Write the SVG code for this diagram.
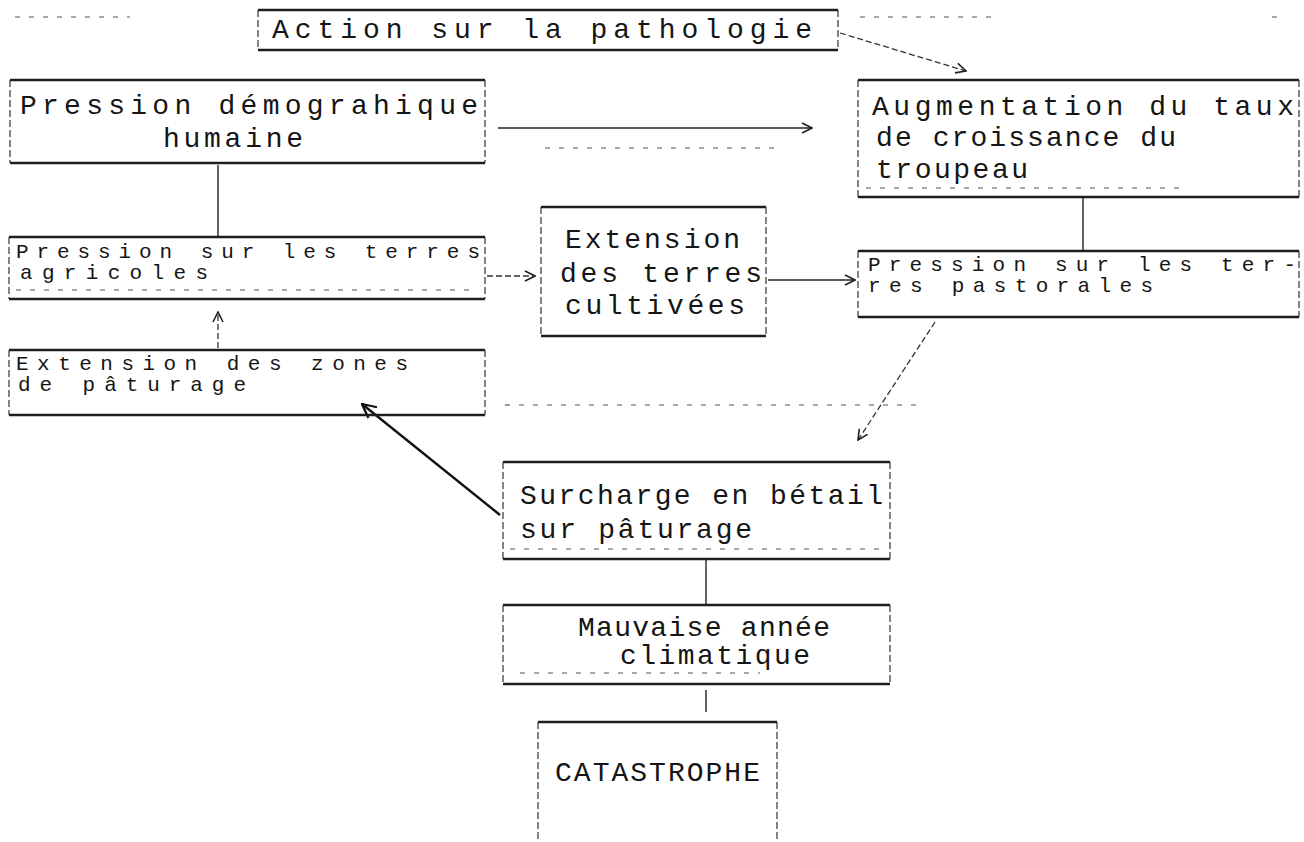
<svg xmlns="http://www.w3.org/2000/svg" width="1304" height="842" viewBox="0 0 1304 842">
<style>
.bg{fill:#ffffff}
.edge-tb{stroke:#1e1e1e;stroke-width:2.4;fill:none}
.edge-side{stroke:#333;stroke-width:1.2;stroke-dasharray:7 3;fill:none}
.dots{stroke:#555;stroke-width:1.2;stroke-dasharray:5 9;fill:none}
.t{font-family:"Liberation Mono","DejaVu Sans Mono",monospace;font-size:28px;fill:#151515}
.ts{font-family:"Liberation Mono","DejaVu Sans Mono",monospace;font-size:21px;fill:#151515}
.c{stroke:#222;stroke-width:1.4;fill:none}
.cd{stroke:#333;stroke-width:1.3;stroke-dasharray:6 3;fill:none}
.cb{stroke:#111;stroke-width:2.4;fill:none}
</style>
<defs>
<marker id="ah" viewBox="0 0 12 12" refX="11" refY="6" markerWidth="12" markerHeight="12" markerUnits="userSpaceOnUse" orient="auto">
<path d="M1,1 L11,6 L1,11" fill="none" stroke="#222" stroke-width="1.6"/>
</marker>
<marker id="ahb" viewBox="0 0 14 14" refX="13" refY="7" markerWidth="16" markerHeight="16" markerUnits="userSpaceOnUse" orient="auto">
<path d="M1,1 L13,7 L1,13" fill="none" stroke="#111" stroke-width="2"/>
</marker>
</defs>
<rect class="bg" x="0" y="0" width="1304" height="842"/>

<g id="decor">
<path class="dots" d="M15,17 H130 M860,17 H1000 M1272,17 H1280"/>
<path class="dots" d="M545,148 H775"/>
<path class="dots" d="M505,405 H920"/>
</g>

<g id="connectors">
<path class="cd" d="M840,33 L966,71" marker-end="url(#ah)"/>
<path class="c" d="M498,128 H812" marker-end="url(#ah)"/>
<path class="c" d="M218,165 V236"/>
<path class="cd" d="M487,276 H535" marker-end="url(#ah)"/>
<path class="c" d="M768,280 H855" marker-end="url(#ah)"/>
<path class="c" d="M1083,197 V250"/>
<path class="cd" d="M218,348 V312" marker-end="url(#ah)"/>
<path class="cd" d="M935,322 L858,440" marker-end="url(#ah)"/>
<path class="cb" d="M500,515 L362,404" marker-end="url(#ahb)"/>
<path class="c" d="M706,560 V605"/>
<path class="c" d="M706,690 V712"/>
</g>

<g id="action">
<path class="edge-tb" d="M258,10 H838 M258,50 H838"/>
<path class="edge-side" d="M258,10 V50 M838,10 V50"/>
<text class="t" x="272" y="38" textLength="540" lengthAdjust="spacing">Action sur la pathologie</text>
</g>

<g id="demo">
<path class="edge-tb" d="M10,80 H485 M10,163 H485"/>
<path class="edge-side" d="M10,80 V163 M485,80 V163"/>
<text class="t" x="20" y="114" textLength="458" lengthAdjust="spacing">Pression démograhique</text>
<text class="t" x="163" y="147" textLength="140" lengthAdjust="spacing">humaine</text>
</g>

<g id="augmentation">
<path class="edge-tb" d="M858,80 H1299 M858,197 H1299"/>
<path class="edge-side" d="M858,80 V197 M1299,80 V197"/>
<path class="dots" d="M866,188 H1180"/>
<text class="t" x="872" y="115" textLength="422" lengthAdjust="spacing">Augmentation du taux</text>
<text class="t" x="876" y="146" textLength="300" lengthAdjust="spacing">de croissance du</text>
<text class="t" x="876" y="178" textLength="152" lengthAdjust="spacing">troupeau</text>
</g>

<g id="agricoles">
<path class="edge-tb" d="M9,237 H485 M9,299 H485"/>
<path class="edge-side" d="M9,237 V299 M485,237 V299"/>
<path class="dots" d="M16,290 H478"/>
<text class="ts" x="16" y="258" textLength="464" lengthAdjust="spacing">Pression sur les terres</text>
<text class="ts" x="20" y="279" textLength="188" lengthAdjust="spacing">agricoles</text>
</g>

<g id="cultivees">
<path class="edge-tb" d="M541,207 H766 M541,336 H766"/>
<path class="edge-side" d="M541,207 V336 M766,207 V336"/>
<text class="t" x="565" y="248" textLength="175" lengthAdjust="spacing">Extension</text>
<text class="t" x="560" y="282" textLength="202" lengthAdjust="spacing">des terres</text>
<text class="t" x="565" y="314" textLength="180" lengthAdjust="spacing">cultivées</text>
</g>

<g id="pastorales">
<path class="edge-tb" d="M858,251 H1299 M858,317 H1299"/>
<path class="edge-side" d="M858,251 V317 M1299,251 V317"/>
<text class="ts" x="868" y="271" textLength="428" lengthAdjust="spacing">Pression sur les ter-</text>
<text class="ts" x="868" y="292" textLength="285" lengthAdjust="spacing">res pastorales</text>
</g>

<g id="zones">
<path class="edge-tb" d="M9,350 H485 M9,415 H485"/>
<path class="edge-side" d="M9,350 V415 M485,350 V415"/>
<text class="ts" x="16" y="370" textLength="392" lengthAdjust="spacing">Extension des zones</text>
<text class="ts" x="18" y="391" textLength="228" lengthAdjust="spacing">de pâturage</text>
</g>

<g id="surcharge">
<path class="edge-tb" d="M503,462 H890 M503,559 H890"/>
<path class="edge-side" d="M503,462 V559 M890,462 V559"/>
<path class="dots" d="M510,549 H885"/>
<text class="t" x="520" y="504" textLength="363" lengthAdjust="spacing">Surcharge en bétail</text>
<text class="t" x="520" y="538" textLength="232" lengthAdjust="spacing">sur pâturage</text>
</g>

<g id="mauvaise">
<path class="edge-tb" d="M503,605 H890 M503,684 H890"/>
<path class="edge-side" d="M503,605 V684 M890,605 V684"/>
<path class="dots" d="M520,673 H760"/>
<text class="t" x="578" y="636" textLength="252" lengthAdjust="spacing">Mauvaise année</text>
<text class="t" x="620" y="664" textLength="190" lengthAdjust="spacing">climatique</text>
</g>

<g id="catastrophe">
<path class="edge-tb" d="M538,722 H777"/>
<path class="edge-side" d="M538,722 V842 M777,722 V842"/>
<text class="t" x="555" y="781" textLength="205" lengthAdjust="spacing">CATASTROPHE</text>
</g>
</svg>
